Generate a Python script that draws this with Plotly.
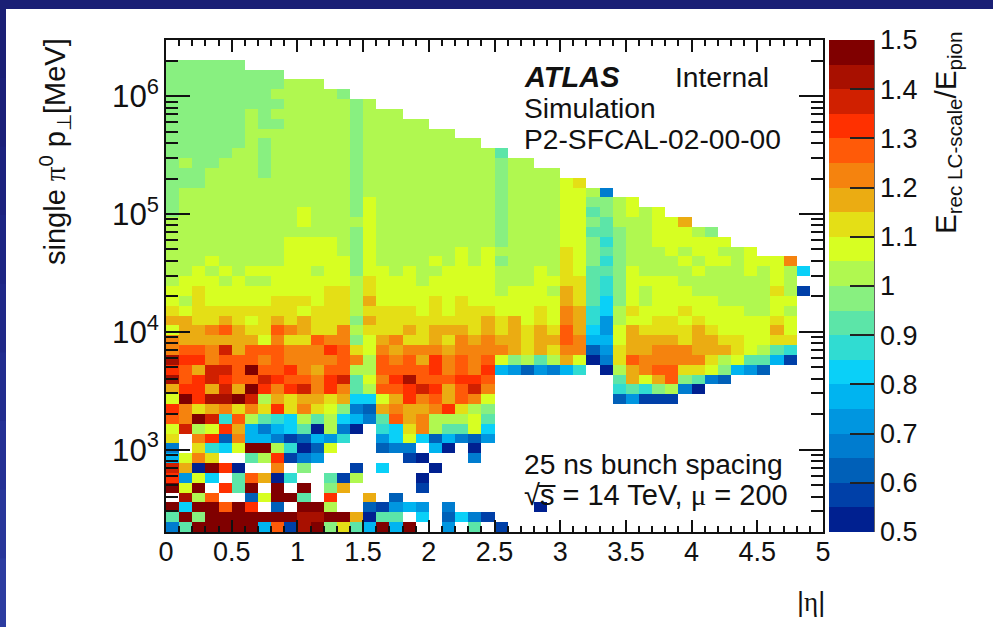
import math
import plotly.graph_objects as go

# One character per cell, top row first. Each character is a colour band of 0.05
# between 0.5 and 1.5; "." is an empty cell.
band_chars = "0123456789abcdefghij"
cells_by_row = [
    "999999",
    "999999999",
    "999999999aaa",
    "99999999aaaaa9",
    "999999999aaaaa9a",
    "999999a9aaaaaa9aaa",
    "999999a99aaaaa9aaaaa",
    "999999aaaaaaaa9aaaaaaa",
    "999999a9aaaaaa9aaaaaaaaa",
    "99999aa9aaaaaa9aaaaaaaaaa8",
    "9a99aaa9aaaaaa9aaaaaaaaaa9aa",
    "999aaaa9aaaaaa9aaaaaaaaaa9aaaa",
    "999aaaaaaaaaaa9aaaaaaaaaa9aaaabc",
    "9aaaaaaaaaaaaa9aaaaaaaaaa9aaaabba3",
    "9aaaaaaaaaaaaa9baaaaaaaaa9aaaabb99ab",
    "9aaaaaaaaabaaa9baaaaaaaaa9aaaabb89abab",
    "aaaaaaaaaabaaaabaaaaaaaaa9aaaabb98aaabbd",
    "aaaaaaaaaaaaaa9baaaaaaaaa9aaaabb889aabbba9",
    "aaaaaaaaabbbba9baaaaaaaaa9aaaabb979aabbbbbb",
    "aaaaaaaaabbbba9baaaaaababaaaaacb989aaababbaab",
    "aaabaaaaabbbbb9baaaababab9aaaacb979aaaababbabbbe",
    "aababa" "bbbbbabb9bbab" "aabbbb" "aaaba" "cb889b" "aaaabaaababa6",
    "abbbabaabbbbbbacbbbabbbbbaaabbcc879bbbbaaaaaaaba",
    "bbcbbbbbbbbbccacbbbbbbbbbabbbadc879babbbaaaaaaca1",
    "bacbbbbbcccbccadbbbbcbcbbbbbbbdc869babbbbbaaaabb",
    "cbccccccccbcccacccc" "bcb" "cccbbbcb" "ed76ac" "bbbcbbbbaaba",
    "ddccdcbcdcdccc9dccccccccdcdbcbed74abbccbcbbbbbcb",
    "bddefdccfedcceaccc" "dcdddcdcdcdc" "fd64bdccccdcbbbbdb",
    "eddddddbe" "ccfee9bdecc" "dcede" "ddcdd" "fe55bddddcddccbbcc",
    "effehdfffeeegfcbed" "eeed" "eeee" "dcdc" "ee24cddeeeddd" "cba87",
    "iggefffefeeeefeafefdgefefb9a8adb03cfeeeeecab8851",
    "gfdhhfjffgedffaaffffgefeg5424357.0adeffccb9542",
    "ifghgffhgffegh8begifffggf.........8dbdf9832",
    "dggdhdjgeghege8affghgdfhe.........7879a30",
    "bjgiijhadcddcd66bdgefdfeb.........24111",
    "gecdecec" "gcecb" "932dedde" "gca9",
    "fejh7fa876a8a6538fdeaaab8",
    "bhabgd535680a30.76cea88b6",
    "c.eg2e55312547..46b625324",
    "3.c76bjja702b...233.50.0",
    "5bec..8ag134......10...3",
    "hd0jg0..e.9...1.6...0",
    "g4b6.8fd07..81a....0",
    "jbj.g8j.j.j.9d.....1",
    ".iaf..2bjj8.g..d.2",
    "j6jjfjg.2.jja..21454.3......0",
    "8j9jjjjjjjiijjd088.6.2631",
    "38jjjjj5f1ij9c85j5j..4.8.1",
]
band_colors = [
    "#002090", "#0040a8", "#0060b8", "#007ccf", "#0096e0",
    "#00b4f0", "#0ad0f8", "#30dcd2", "#5ce5a8", "#88f080",
    "#b0f850", "#d7ff22", "#e4df16", "#ebac12", "#f5830e",
    "#ff5a08", "#ff3000", "#d02000", "#a81000", "#800000",
]
eta_min, eta_max, n_eta = 0.0, 5.0, 50
pt_min, pt_max, n_pt = 200.0, 3.0e6, 50
colorbar_ticks = [0.5, 0.6, 0.7, 0.8, 0.9, 1.0, 1.1, 1.2, 1.3, 1.4, 1.5]
colorbar_labels = ["0.5", "0.6", "0.7", "0.8", "0.9", "1", "1.1", "1.2", "1.3", "1.4", "1.5"]
x_ticks = [0, 0.5, 1, 1.5, 2, 2.5, 3, 3.5, 4, 4.5, 5]
x_labels = ["0", "0.5", "1", "1.5", "2", "2.5", "3", "3.5", "4", "4.5", "5"]

FONT = "Liberation Sans"
W, H = 993, 627
L, R, T, B = 166, 823, 40, 532


def px(x):
    return (x - L) / (R - L)


def py(y):
    return (B - y) / (B - T)


x_edges = [eta_min + i * (eta_max - eta_min) / n_eta for i in range(n_eta + 1)]
lmin, lmax = math.log10(pt_min), math.log10(pt_max)
y_edges = [10 ** (lmin + i * (lmax - lmin) / n_pt) for i in range(n_pt + 1)]

z = [[None] * n_eta for _ in range(n_pt)]
for r, row in enumerate(cells_by_row):
    for c, ch in enumerate(row):
        if ch != ".":
            z[len(cells_by_row) - 1 - r][c] = 0.5 + 0.05 * band_chars.index(ch) + 0.025

scale = []
for i, col in enumerate(band_colors):
    scale.append([i / 20, col])
    scale.append([(i + 1) / 20, col])

fig = go.Figure(go.Heatmap(
    x=x_edges, y=y_edges, z=z, zmin=0.5, zmax=1.5, colorscale=scale, zsmooth=False,
    xgap=0, ygap=0, hoverongaps=False,
    colorbar=dict(
        x=px(829), xanchor="left", xpad=0, y=0.5, yanchor="middle", ypad=0, len=1,
        thickness=45, outlinewidth=0, ticks="inside", ticklen=24, tickwidth=1.5,
        tickcolor="#222222", tickvals=colorbar_ticks, ticktext=colorbar_labels,
        tickfont=dict(family=FONT, size=27, color="#111111"),
    ),
))
# Empty trace so that the top and right frame axes (with their own ticks) are drawn.
fig.add_trace(go.Scatter(x=[], y=[], xaxis="x2", yaxis="y2", showlegend=False, hoverinfo="skip"))

annotations = []


def note(x, y, text, size=28.2, anchor="left", angle=0, yanchor="middle"):
    annotations.append(dict(
        x=px(x), y=py(y), xref="paper", yref="paper", text=text, showarrow=False,
        xanchor=anchor, yanchor=yanchor, textangle=angle, borderpad=0, borderwidth=0,
        font=dict(family=FONT, size=size, color="#111111"),
    ))


note(524, 77, "<b><i>ATLAS</i></b>", size=29)
note(675, 77, "Internal")
note(524, 108, "Simulation")
note(524, 139, "P2-SFCAL-02-00-00")
note(524, 464, "25 ns bunch spacing")
note(524, 495, "√s̅ = 14 TeV, <span style='font-family:Liberation Serif'>μ</span> = 200", size=29)
note(811, 602, "|<span style='font-family:Liberation Serif'>η</span>|", size=27, anchor="center")
note(55, 152, "single <span style='font-family:Liberation Serif'>π</span><sup>0</sup> p<sub>⊥</sub>[MeV]",
     size=29, anchor="center", angle=-90)
note(948, 133, "E<sub>rec LC-scale</sub>/E<sub>pion</sub>", size=29.5, anchor="center", angle=-90)

shapes = [
    dict(type="rect", xref="paper", yref="paper", x0=px(0), x1=px(W), y0=py(0), y1=py(9),
         fillcolor="#1a1f75", line_width=0, layer="below"),
    dict(type="line", xref="paper", yref="paper", x0=px(874), x1=px(874), y0=py(40), y1=py(532),
         line=dict(color="#333333", width=1.5)),
]
strip = ["#1a1f75", "#1b2079", "#1c227e", "#1d2583", "#1f2888", "#212c8e", "#243094", "#28369a", "#2c3ca0"]
for i, col in enumerate(strip):
    shapes.append(dict(type="rect", xref="paper", yref="paper", x0=px(0), x1=px(6),
                       y0=py(9 + i * 618 / len(strip)), y1=py(9 + (i + 1) * 618 / len(strip) + 2),
                       fillcolor=col, line_width=0, layer="below"))

tick_style = dict(ticks="inside", tickwidth=1.5, tickcolor="#111111")
line_style = dict(showline=True, linecolor="#111111", linewidth=2, showgrid=False, zeroline=False)
x_tick_style = dict(ticklen=12, minor=dict(ticks="inside", ticklen=6, tickwidth=1.5, tickcolor="#111111", dtick=0.1))
y_tick_style = dict(ticklen=24, minor=dict(ticks="inside", ticklen=12, tickwidth=1.5, tickcolor="#111111", dtick="D1"))

fig.update_layout(
    width=W, height=H, margin=dict(l=L, r=W - R, t=T, b=H - B, pad=0),
    paper_bgcolor="white", plot_bgcolor="white", showlegend=False,
    annotations=annotations, shapes=shapes,
    xaxis=dict(
        range=[eta_min, eta_max], tickvals=x_ticks, ticktext=x_labels, tickangle=0,
        ticklabelstandoff=-5,
        tickfont=dict(family=FONT, size=27, color="#111111"),
        **tick_style, **x_tick_style, **line_style,
    ),
    yaxis=dict(
        type="log", range=[lmin, lmax], dtick=1, exponentformat="power",
        tickfont=dict(family=FONT, size=25, color="#111111"),
        **tick_style, **y_tick_style, **line_style,
    ),
    xaxis2=dict(
        range=[eta_min, eta_max], tickvals=x_ticks, overlaying="x", side="top", anchor="y2",
        showticklabels=False, **tick_style, **x_tick_style, **line_style,
    ),
    yaxis2=dict(
        type="log", range=[lmin, lmax], dtick=1, overlaying="y", side="right", anchor="x2",
        showticklabels=False, **tick_style, **y_tick_style, **line_style,
    ),
)
fig.write_html("out.html", config=dict(displayModeBar=False),
               post_script="document.body.style.margin='0';document.documentElement.style.overflow='hidden';")
